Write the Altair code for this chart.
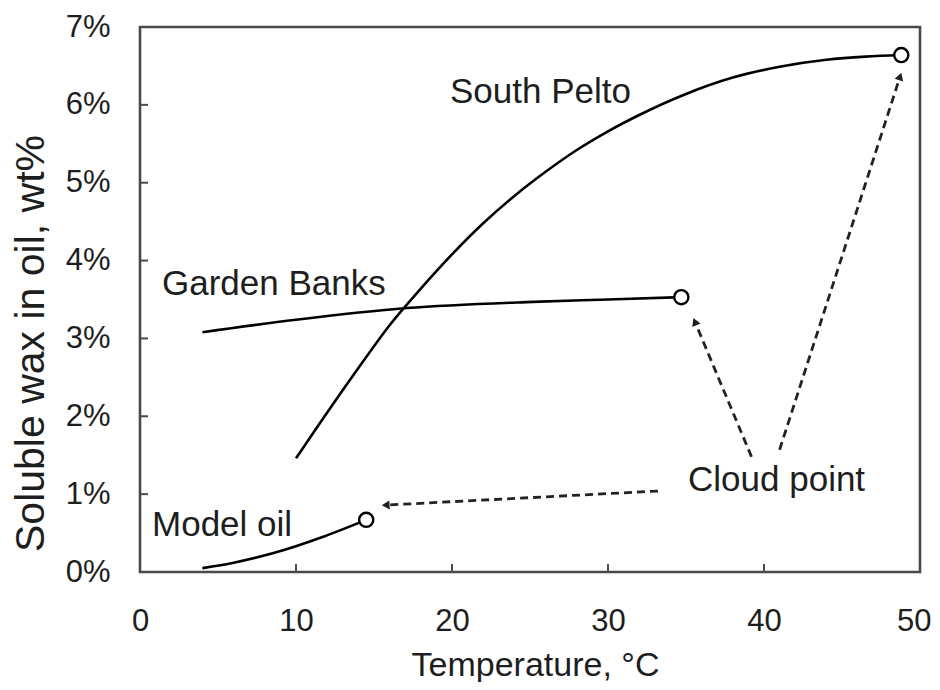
import math
import altair as alt
import pandas as pd

# ---- data ----
sp_t = [10, 12, 14, 16, 18, 20, 22, 24, 26, 28, 30, 32, 35, 38, 41, 44, 46.5, 48.8]
sp_w = [1.46, 2.05, 2.62, 3.17, 3.64, 4.08, 4.48, 4.83, 5.14, 5.42, 5.66, 5.87, 6.14, 6.35, 6.49, 6.58, 6.62, 6.64]
gb_t = [4, 10, 17.1, 25.2, 30, 34.7]
gb_w = [3.08, 3.24, 3.39, 3.47, 3.50, 3.53]
mo_t = [4, 6, 8.5, 11.7, 14.5]
mo_w = [0.05, 0.12, 0.24, 0.45, 0.67]

label_text = ["South Pelto", "Garden Banks", "Model oil", "Cloud point"]
label_t = [19.87, 1.41, 0.77, 35.13]
label_w = [6.02, 3.56, 0.46, 1.04]

arrow_t1 = [33.2, 39.2, 41.0]
arrow_w1 = [1.04, 1.48, 1.57]
arrow_t2 = [15.83, 35.6, 48.7]
arrow_w2 = [0.86, 3.20, 6.35]

x_ticks = [0, 10, 20, 30, 40, 50]
y_ticks = [0, 1, 2, 3, 4, 5, 6, 7]

W, H = 780, 545
X_MAX, Y_MAX = 50, 7

FONT = "Liberation Sans"
TXT = "#1e1e1e"

rows = []
for name, ts, ws in [("South Pelto", sp_t, sp_w), ("Garden Banks", gb_t, gb_w), ("Model oil", mo_t, mo_w)]:
    for t, w in zip(ts, ws):
        rows.append({"series": name, "t": t, "w": w / 100})
lines_df = pd.DataFrame(rows)

ends_df = pd.DataFrame({
    "t": [sp_t[-1], gb_t[-1], mo_t[-1]],
    "w": [sp_w[-1] / 100, gb_w[-1] / 100, mo_w[-1] / 100],
})

labels_df = pd.DataFrame({"text": label_text, "t": label_t, "w": [v / 100 for v in label_w]})

ang = []
for a, b, c, d in zip(arrow_t1, arrow_w1, arrow_t2, arrow_w2):
    dx = (c - a) * W / X_MAX
    dy_screen = -(d - b) * H / Y_MAX
    ang.append(math.degrees(math.atan2(dx, -dy_screen)) % 360)
arrows_df = pd.DataFrame({
    "t": arrow_t1, "w": [v / 100 for v in arrow_w1],
    "t2": arrow_t2, "w2": [v / 100 for v in arrow_w2],
    "angle": ang,
})
heads_df = pd.DataFrame({"t": arrow_t2, "w": [v / 100 for v in arrow_w2], "angle": ang})

xt_df = pd.DataFrame({"t": x_ticks[1:-1]})
yt_df = pd.DataFrame({"w": [v / 100 for v in y_ticks[1:-1]]})

xscale = alt.Scale(domain=[0, X_MAX], nice=False, zero=False)
yscale = alt.Scale(domain=[0, Y_MAX / 100], nice=False)

last_x = "datum.value == %d" % x_ticks[-1]
xaxis = alt.Axis(
    values=x_ticks, ticks=False, tickSize=0, domain=False, grid=False, labelFlush=False,
    labelAlign=alt.condition(last_x, alt.value("right"), alt.value("center")),
    labelOffset=alt.condition(last_x, alt.value(11), alt.value(0)),
    labelFont=FONT, labelFontSize=31, labelColor=TXT, labelPadding=34,
    title="Temperature, °C", titleFont=FONT, titleFontSize=34, titleFontWeight="normal",
    titleColor=TXT, titleX=395, titleY=103, titleBaseline="alphabetic",
)
yaxis = alt.Axis(
    values=[v / 100 for v in y_ticks], format=".0%", ticks=False, tickSize=0, domain=False, grid=False,
    labelFlush=False,
    labelFont=FONT, labelFontSize=31, labelColor=TXT, labelPadding=30,
    title="Soluble wax in oil, wt%", titleFont=FONT, titleFontSize=41, titleFontWeight="normal",
    titleColor=TXT, titleX=-97, titleY=316, titleAngle=270, titleBaseline="alphabetic",
)

X = alt.X("t:Q", scale=xscale, axis=xaxis, title="Temperature, °C")
Y = alt.Y("w:Q", scale=yscale, axis=yaxis, title="Soluble wax in oil, wt%")

lines = alt.Chart(lines_df).mark_line(color="black", strokeWidth=2.6, interpolate="monotone").encode(
    x=X, y=Y, detail="series:N"
)

arrows = alt.Chart(arrows_df).mark_rule(color="#222222", strokeWidth=2.8, strokeDash=[8, 5]).encode(
    x=X, y=Y, x2="t2:Q", y2="w2:Q",
)
heads = alt.Chart(heads_df).mark_point(shape="triangle", filled=True, color="#222222", size=80, opacity=1).encode(
    x=X, y=Y, angle=alt.Angle("angle:Q", scale=None),
)

ends = alt.Chart(ends_df).mark_point(shape="circle", filled=True, fill="white", stroke="black",
                                     strokeWidth=2.4, size=200, opacity=1).encode(x=X, y=Y)

texts = alt.Chart(labels_df).mark_text(align="left", baseline="alphabetic", font=FONT, fontSize=35,
                                       color=TXT).encode(x=X, y=Y, text="text:N")

xticks = alt.Chart(xt_df).mark_rule(color="#4a4a4a", strokeWidth=2).encode(
    x=X, y=alt.value(H), y2=alt.value(H - 8)
)
yticks = alt.Chart(yt_df).mark_rule(color="#4a4a4a", strokeWidth=2).encode(
    y=Y, x=alt.value(0), x2=alt.value(8)
)

chart = alt.layer(lines, arrows, heads, ends, texts, xticks, yticks).properties(
    width=W, height=H,
    autosize=alt.AutoSizeParams(type="none"),
    padding={"left": 132, "top": 19, "right": 12, "bottom": 110},
    background="white",
).configure_view(stroke="#4a4a4a", strokeWidth=2.6)

chart.save("out.html", embed_options={"renderer": "svg", "actions": False})
